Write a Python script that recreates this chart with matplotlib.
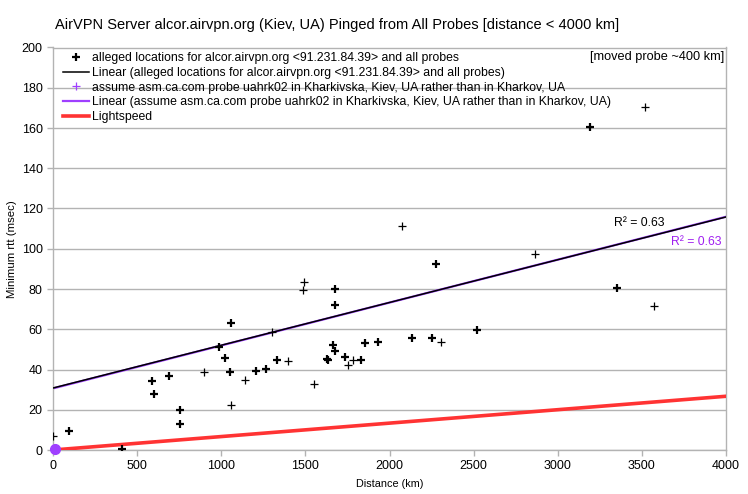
import matplotlib
matplotlib.use("Agg")
import matplotlib.pyplot as plt

plt.rcParams['font.family'] = ['Liberation Sans', 'DejaVu Sans']

# probe distance (km) and minimum rtt (msec)
dist_bold = [95, 411, 589, 601, 690, 756, 756, 984, 1024, 1057, 1054, 1206, 1268,
             1331, 1629, 1637, 1667, 1679, 1679, 1679, 1738, 1833, 1857, 1933,
             2135, 2254, 2274, 2518, 3190, 3355]
rtt_bold = [9.6, 0.5, 34.5, 27.9, 36.8, 19.9, 12.9, 51.4, 45.9, 63.2, 39.0, 39.3, 40.3,
            44.8, 45.3, 44.8, 52.4, 80.1, 72.1, 49.3, 46.4, 44.8, 53.4, 53.7,
            55.9, 55.9, 92.5, 59.7, 160.5, 80.6]
dist_thin = [0, 899, 1057, 1143, 1300, 1397, 1488, 1494, 1549, 1752, 1784,
             2075, 2304, 2865, 3521, 3571]
rtt_thin = [7.0, 38.6, 22.2, 34.7, 58.4, 44.3, 79.6, 83.6, 33.0, 42.1, 44.8,
            111.4, 53.7, 97.5, 170.5, 71.6]

# moved probe (uahrk02 placed in Kiev)
moved_dist = [12]
moved_rtt = [0.4]

# linear trend lines (end points)
trend_x = [0, 4000]
trend_all = [30.8, 115.8]
trend_moved = [30.6, 115.9]

# lightspeed round trip
light_x = [0, 4000]
light_rtt = [0, 26.7]

purple = '#9f3fff'
grid_c = '#b3b3b3'

fig = plt.figure(figsize=(7.48, 4.94), dpi=100)
ax = fig.add_axes([53 / 748, 44 / 494, 673 / 748, 402.5 / 494])

ax.plot(dist_bold, rtt_bold, '+', color='black', ms=6, mew=1.6, zorder=4,
        label='alleged locations for alcor.airvpn.org <91.231.84.39> and all probes')
ax.plot(dist_thin, rtt_thin, '+', color='black', ms=6, mew=0.9, zorder=4)
ax.plot(trend_x, trend_all, color='black', lw=1.1, zorder=3,
        label='Linear (alleged locations for alcor.airvpn.org <91.231.84.39> and all probes)')
ax.plot(moved_dist, moved_rtt, '+', color=purple, ms=6, mew=0.9, zorder=2,
        label='assume asm.ca.com probe uahrk02 in Kharkivska, Kiev, UA rather than in Kharkov, UA')
ax.plot(trend_x, trend_moved, color=purple, lw=1.6, zorder=2,
        label='Linear (assume asm.ca.com probe uahrk02 in Kharkivska, Kiev, UA rather than in Kharkov, UA)')
ax.plot(light_x, light_rtt, color='#ff3333', lw=2.6, zorder=3, label='Lightspeed')
ax.plot(moved_dist, moved_rtt, 'o', color=purple, ms=7, zorder=5, clip_on=False)

ax.set_xlim(0, 4000)
ax.set_ylim(0, 200)
ax.set_xticks(range(0, 4001, 500))
ax.set_yticks(range(0, 201, 20))
ax.yaxis.grid(True, color=grid_c, lw=1)
ax.set_axisbelow(True)
for s in ax.spines.values():
    s.set_color(grid_c)
    s.set_linewidth(1)
ax.tick_params(colors=grid_c, labelcolor='black', labelsize=9, length=4, width=1)

ax.set_xlabel('Distance (km)', fontsize=7.8, labelpad=5)
ax.set_ylabel('Minimum rtt (msec)', fontsize=8.2, labelpad=3)

fig.text(55 / 748, 1 - 25 / 494, 'AirVPN Server alcor.airvpn.org (Kiev, UA) Pinged from All Probes [distance < 4000 km]',
         fontsize=10.5, va='center', ha='left')

ax.text(0.997, 0.976, '[moved probe ~400 km]', transform=ax.transAxes,
        ha='right', va='center', fontsize=9.2)
ax.text(3483, 112.8, 'R² = 0.63', ha='center', va='center', fontsize=8.8, color='black')
ax.text(3822, 103.5, 'R² = 0.63', ha='center', va='center', fontsize=8.8, color='#a020f0')

ax.legend(loc='upper left', bbox_to_anchor=(0.015, 0.988), frameon=False,
          fontsize=8.8, borderaxespad=0, borderpad=0, handlelength=2.1,
          handletextpad=0.3, labelspacing=0.22)

fig.savefig('out.png', dpi=100)
